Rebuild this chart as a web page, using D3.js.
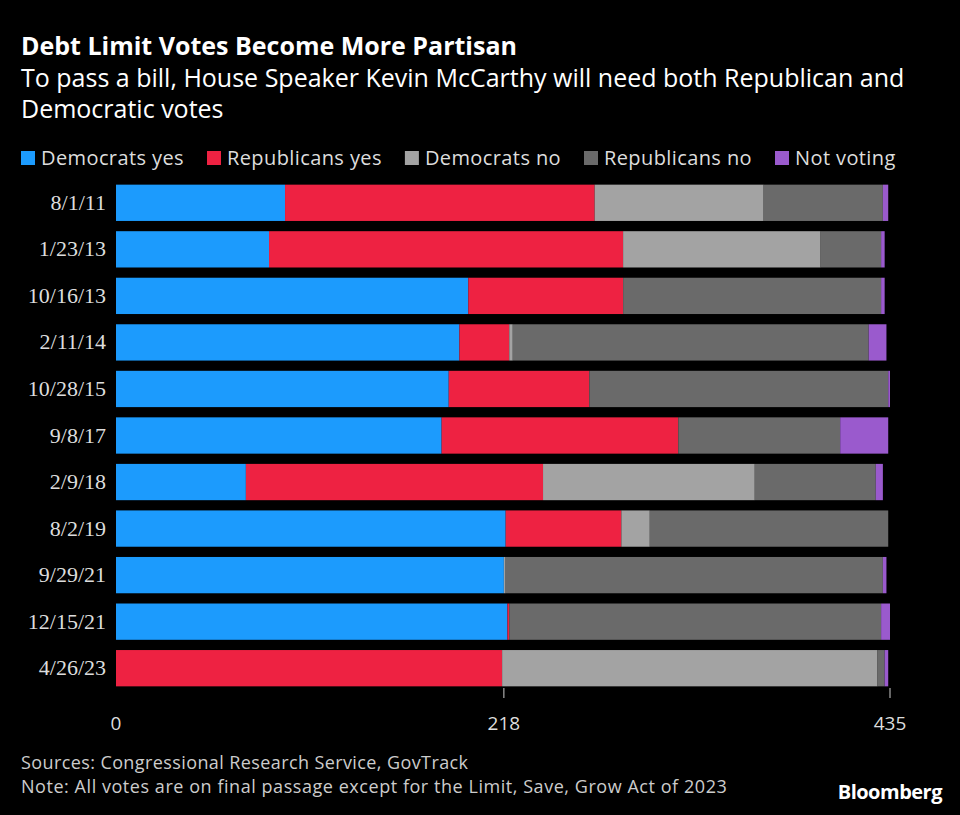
<!DOCTYPE html>
<html><head><meta charset="utf-8">
<script src="https://cdn.jsdelivr.net/npm/d3@7"></script>
<style>body{margin:0;background:#000;}text{font-family:"Open Sans",sans-serif;}</style>
</head><body>
<svg id="chart" width="960" height="815"></svg>
<script>
var dates = ['8/1/11','1/23/13','10/16/13','2/11/14','10/28/15','9/8/17','2/9/18','8/2/19','9/29/21','12/15/21','4/26/23'];
var demYes = [95, 86, 198, 193, 187, 183, 73, 219, 218, 220, 0];
var repYes = [174, 199, 87, 28, 79, 133, 167, 65, 0, 1, 217];
var demNo  = [95, 111, 0, 2, 0, 0, 119, 16, 1, 0, 211];
var repNo  = [67, 34, 145, 200, 168, 91, 68, 134, 212, 209, 4];
var notVoting = [3, 2, 2, 10, 1, 27, 4, 0, 2, 5, 2];
var seriesNames = ['Democrats yes','Republicans yes','Democrats no','Republicans no','Not voting'];
var colors = ['#1c9bfd','#ee2242','#a3a3a3','#6a6a6a','#9a5acd'];
var ticks = [0, 218, 435];

var rows = dates.map(function(d, i) {
	return {date: d, v: [demYes[i], repYes[i], demNo[i], repNo[i], notVoting[i]]};
});

var svg = d3.select('#chart');
var x = d3.scaleLinear().domain([0, 435]).range([116, 890]);
var y = d3.scaleBand().domain(dates).range([180, 691]).paddingInner(0.22).paddingOuter(0.1);

svg.append('text').attr('x', 21).attr('y', 55).attr('fill', '#fff')
	.style('font-size', '25px').style('font-weight', 'bold').text('Debt Limit Votes Become More Partisan');
svg.append('text').attr('x', 21).attr('y', 87).attr('fill', '#fff')
	.style('font-size', '25px').text('To pass a bill, House Speaker Kevin McCarthy will need both Republican and');
svg.append('text').attr('x', 21).attr('y', 118).attr('fill', '#fff')
	.style('font-size', '25px').text('Democratic votes');

// legend
var lx = 21;
seriesNames.forEach(function(s, i) {
	var g = svg.append('g').attr('transform', 'translate(' + lx + ',151)');
	g.append('rect').attr('width', 14).attr('height', 14).attr('fill', colors[i]);
	var t = g.append('text').attr('x', 20).attr('y', 14).attr('fill', '#ddd')
		.style('font-size', '20px').style('letter-spacing', '0.4px').text(s);
	lx += 20 + t.node().getComputedTextLength() + 23;
});

rows.forEach(function(r) {
	var acc = 0;
	r.v.forEach(function(val, k) {
		if (val > 0) {
			svg.append('rect').attr('x', x(acc)).attr('y', y(r.date))
				.attr('width', x(acc + val) - x(acc)).attr('height', y.bandwidth())
				.attr('fill', colors[k]);
		}
		acc += val;
	});
	svg.append('text').attr('x', 106).attr('y', y(r.date) + y.bandwidth() / 2 + 7)
		.attr('text-anchor', 'end').attr('fill', '#ddd')
		.style('font-family', '"Liberation Serif",serif').style('font-size', '22px').text(r.date);
});

ticks.forEach(function(t) {
	if (t > 0) svg.append('line').attr('x1', x(t)).attr('x2', x(t)).attr('y1', 688).attr('y2', 698)
		.attr('stroke', '#ccc').attr('stroke-width', 1);
	svg.append('text').attr('x', x(t)).attr('y', 730).attr('text-anchor', 'middle')
		.attr('fill', '#ddd').style('font-size', '19px').text(t);
});

svg.append('text').attr('x', 21).attr('y', 769).attr('fill', '#ccc').style('font-size', '18px')
	.style('letter-spacing', '0.4px').text('Sources: Congressional Research Service, GovTrack');
svg.append('text').attr('x', 21).attr('y', 793).attr('fill', '#ccc').style('font-size', '18px')
	.style('letter-spacing', '0.55px').text('Note: All votes are on final passage except for the Limit, Save, Grow Act of 2023');
svg.append('text').attr('x', 942).attr('y', 799).attr('text-anchor', 'end').attr('fill', '#fff')
	.style('font-size', '20px').style('font-weight', 'bold').style('letter-spacing', '-0.5px').text('Bloomberg');
</script>
</body></html>
